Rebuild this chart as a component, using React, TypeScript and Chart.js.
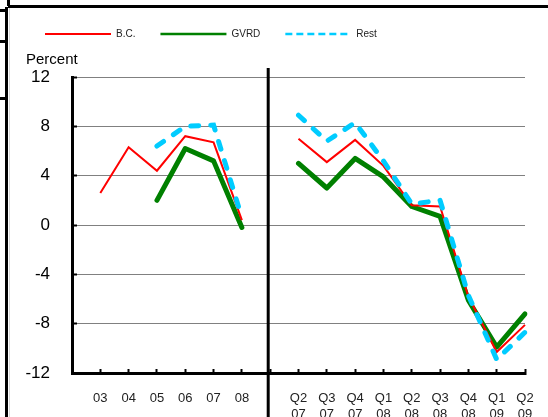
import React, { useEffect, useRef } from 'react';
import { Chart, registerables } from 'chart.js';

Chart.register(...registerables);

// ---- data ----
const annualLabels: string[] = ['03', '04', '05', '06', '07', '08'];
const quarterLabels: string[][] = [
  ['Q2', '07'], ['Q3', '07'], ['Q4', '07'], ['Q1', '08'], ['Q2', '08'],
  ['Q3', '08'], ['Q4', '08'], ['Q1', '09'], ['Q2', '09'],
];

const bcAnnual: (number | null)[] = [2.6, 6.3, 4.4, 7.2, 6.7, 0.4];
const gvrdAnnual: (number | null)[] = [null, null, 2.0, 6.2, 5.2, -0.2];
const restAnnual: (number | null)[] = [null, null, 6.4, 8.0, 8.1, 0.6];

const bcQuarterly: number[] = [7.0, 5.1, 6.9, 4.8, 1.6, 1.5, -5.8, -10.3, -8.1];
const gvrdQuarterly: number[] = [5.0, 3.0, 5.4, 3.9, 1.5, 0.7, -6.1, -9.9, -7.2];
const restQuarterly: number[] = [8.9, 6.8, 8.3, 5.2, 1.7, 2.0, -5.7, -10.9, -8.7];

const seriesNames = ['B.C.', 'GVRD', 'Rest'];
const yTicks = [-12, -8, -4, 0, 4, 8, 12];

const FONT = '"Liberation Sans", Arial, sans-serif';
const DIVIDER_AT = 6.93; // category index position of the panel divider

export default function App() {
  const ref = useRef<HTMLCanvasElement>(null);

  useEffect(() => {
    const canvas = ref.current;
    if (!canvas) return;
    Chart.defaults.font.family = FONT;

    const labels: (string | string[])[] = ['', ...annualLabels, '', ...quarterLabels];
    const join = (a: (number | null)[], q: (number | null)[]) => [null, ...a, null, ...q];

    const legendWidths = [2, 2.5, 2.5];
    const legendDash = [[], [], [7, 4]];

    const spacer = {
      id: 'legendSpacer',
      beforeInit(chart: any) {
        const lg = chart.legend;
        if (!lg) return;
        const orig = lg.fit;
        lg.fit = function () {
          orig.call(this);
          this.height += 28;
        };
      },
    };

    const decor = {
      id: 'decor',
      afterDraw(chart: any) {
        const { ctx, chartArea, scales } = chart;
        ctx.save();
        ctx.font = `15px ${FONT}`;
        ctx.fillStyle = '#000';
        ctx.textAlign = 'left';
        ctx.textBaseline = 'alphabetic';
        ctx.fillText('Percent', chartArea.left - 46, chartArea.top - 13);
        const x = scales.x.getPixelForValue(DIVIDER_AT);
        ctx.strokeStyle = '#000';
        ctx.lineWidth = 3;
        ctx.beginPath();
        ctx.moveTo(x, chartArea.top - 9);
        ctx.lineTo(x, chart.height);
        ctx.stroke();
        ctx.restore();
      },
    };

    const chart = new Chart(canvas, {
      type: 'line',
      data: {
        labels,
        datasets: [
          {
            label: seriesNames[0],
            data: join(bcAnnual, bcQuarterly),
            borderColor: '#ff0000',
            backgroundColor: '#ff0000',
            borderWidth: 2,
            pointRadius: 0,
            tension: 0,
            order: 1,
          },
          {
            label: seriesNames[1],
            data: join(gvrdAnnual, gvrdQuarterly),
            borderColor: '#008000',
            backgroundColor: '#008000',
            borderWidth: 5,
            borderJoinStyle: 'round',
            borderCapStyle: 'round',
            pointRadius: 0,
            tension: 0,
            order: 2,
          },
          {
            label: seriesNames[2],
            data: join(restAnnual, restQuarterly),
            borderColor: '#00ccff',
            backgroundColor: '#00ccff',
            borderWidth: 5,
            borderDash: [8, 12],
            borderCapStyle: 'round',
            pointRadius: 0,
            tension: 0,
            order: 0,
          },
        ] as any,
      },
      options: {
        responsive: false,
        animation: false,
        layout: { padding: { left: 20, right: 23, top: 4, bottom: 0 } },
        plugins: {
          tooltip: { enabled: false },
          legend: {
            position: 'top',
            align: 'start',
            labels: {
              usePointStyle: true,
              pointStyle: 'line',
              pointStyleWidth: 66,
              padding: 25,
              font: { size: 10, family: FONT },
              color: '#222',
              generateLabels: (c: any) =>
                c.data.datasets.map((ds: any, i: number) => ({
                  text: ds.label,
                  datasetIndex: i,
                  strokeStyle: ds.borderColor,
                  fillStyle: ds.borderColor,
                  lineWidth: legendWidths[i],
                  lineDash: legendDash[i],
                  lineCap: 'butt',
                  pointStyle: 'line',
                  hidden: false,
                  fontColor: '#222',
                })),
            },
          },
        },
        scales: {
          x: {
            type: 'category',
            offset: false,
            grid: {
              drawOnChartArea: false,
              drawTicks: true,
              tickLength: -4,
              tickWidth: 2,
              tickColor: '#000',
            },
            border: { display: true, color: '#000', width: 3 },
            ticks: {
              autoSkip: false,
              maxRotation: 0,
              minRotation: 0,
              padding: 22,
              color: '#222',
              font: { size: 13, family: FONT },
            },
            afterFit: (s: any) => {
              s.height = 44;
              s.paddingRight = 0;
              s.paddingLeft = 0;
            },
          },
          y: {
            min: yTicks[0],
            max: yTicks[yTicks.length - 1],
            afterBuildTicks: (s: any) => {
              s.ticks = yTicks.map((v) => ({ value: v }));
            },
            ticks: {
              padding: 27,
              color: '#000',
              font: { size: 17, family: FONT },
            },
            grid: {
              color: '#808080',
              lineWidth: 1,
              drawTicks: true,
              tickLength: -5,
              tickWidth: 2,
              tickColor: '#000',
            },
            border: { display: true, color: '#000', width: 3 },
            afterFit: (s: any) => {
              s.width = 52;
            },
          },
        },
      } as any,
      plugins: [spacer, decor],
    });

    return () => chart.destroy();
  }, []);

  const blk = (l: number, t: number, w: number, h: number, c = '#000') => (
    <div style={{ position: 'absolute', left: l, top: t, width: w, height: h, background: c }} />
  );

  return (
    <div style={{ position: 'fixed', left: 0, top: 0, width: 548, height: 417, background: '#fff', overflow: 'hidden' }}>
      <canvas ref={ref} width={548} height={417} style={{ position: 'absolute', left: 0, top: 0, display: 'block' }} />
      {blk(7, 0, 3, 6)}
      {blk(8, 5, 540, 3)}
      {blk(5, 7, 3, 410)}
      {blk(9, 8, 1, 409, '#d8d8d8')}
      {blk(0, 9, 6, 3)}
      {blk(0, 40, 6, 3)}
      {blk(0, 97, 6, 3)}
    </div>
  );
}
